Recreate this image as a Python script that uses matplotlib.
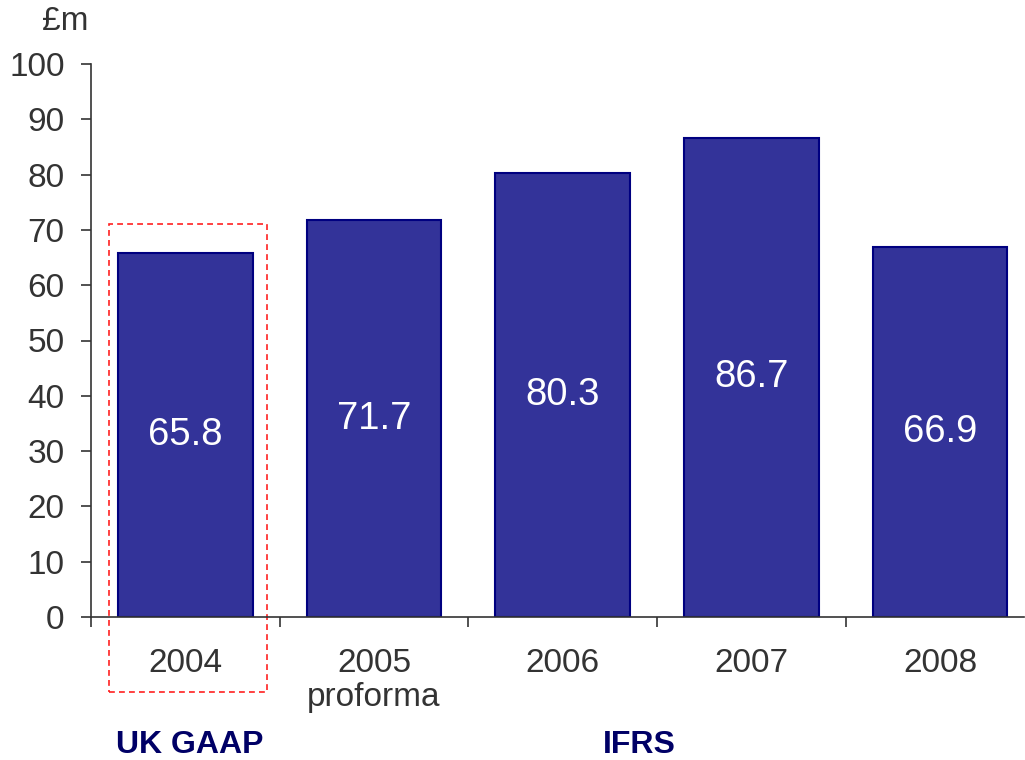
import matplotlib
matplotlib.use("Agg")
import matplotlib.pyplot as plt
from matplotlib.patches import Rectangle

years = ["2004", "2005\nproforma", "2006", "2007", "2008"]
values = [65.8, 71.7, 80.3, 86.7, 66.9]
value_labels = ["65.8", "71.7", "80.3", "86.7", "66.9"]
yticks = [0, 10, 20, 30, 40, 50, 60, 70, 80, 90, 100]

plt.rcParams['font.family'] = ['Liberation Sans', 'DejaVu Sans']
grey = '#333333'
navy = '#000066'

fig = plt.figure(figsize=(10.25, 7.6), dpi=100)
ax = fig.add_axes([91/1025, (760-617)/760, (1024-91)/1025, (617-64)/760])

x = list(range(len(years)))
ax.bar(x, values, width=0.715, color='#333399', edgecolor='#000080', linewidth=1.5)
for xi, v, lab in zip(x, values, value_labels):
    ax.text(xi, v / 2, lab, ha='center', va='center', color='white', fontsize=27.5)

ax.set_xlim(-0.5, 4.445)
ax.set_ylim(0, 100)
ax.set_yticks(yticks)
ax.set_yticklabels([str(t) for t in yticks])
ax.tick_params(axis='y', length=7, width=1.2, color=grey, labelsize=24, labelcolor=grey, pad=12, direction='out')

ax.set_xticks(x)
ax.set_xticklabels(years, fontsize=24, color=grey, va='top', linespacing=1.15)
ax.tick_params(axis='x', which='major', length=0, pad=22)
ax.set_xticks([-0.5, 0.5, 1.5, 2.5, 3.5], minor=True)
ax.tick_params(axis='x', which='minor', length=7.5, width=1.2, color=grey, direction='out')

for s in ['top', 'right']:
    ax.spines[s].set_visible(False)
for s in ['left', 'bottom']:
    ax.spines[s].set_color(grey)
    ax.spines[s].set_linewidth(1.2)

rect = Rectangle((-0.407, -13.56), 0.841, 71.1 + 13.56, fill=False,
                 edgecolor='#ff2020', linestyle=(0, (3.5, 2.5)), linewidth=1.2, clip_on=False)
ax.add_patch(rect)

fig.text(65/1025, 1 - 22/760, "£m", ha='center', va='center', fontsize=24, color=grey)
fig.text(190/1025, 1 - 745/760, "UK GAAP", ha='center', va='center', fontsize=23, fontweight='bold', color=navy)
fig.text(639/1025, 1 - 745/760, "IFRS", ha='center', va='center', fontsize=23, fontweight='bold', color=navy)

fig.savefig("out.png", dpi=100)
